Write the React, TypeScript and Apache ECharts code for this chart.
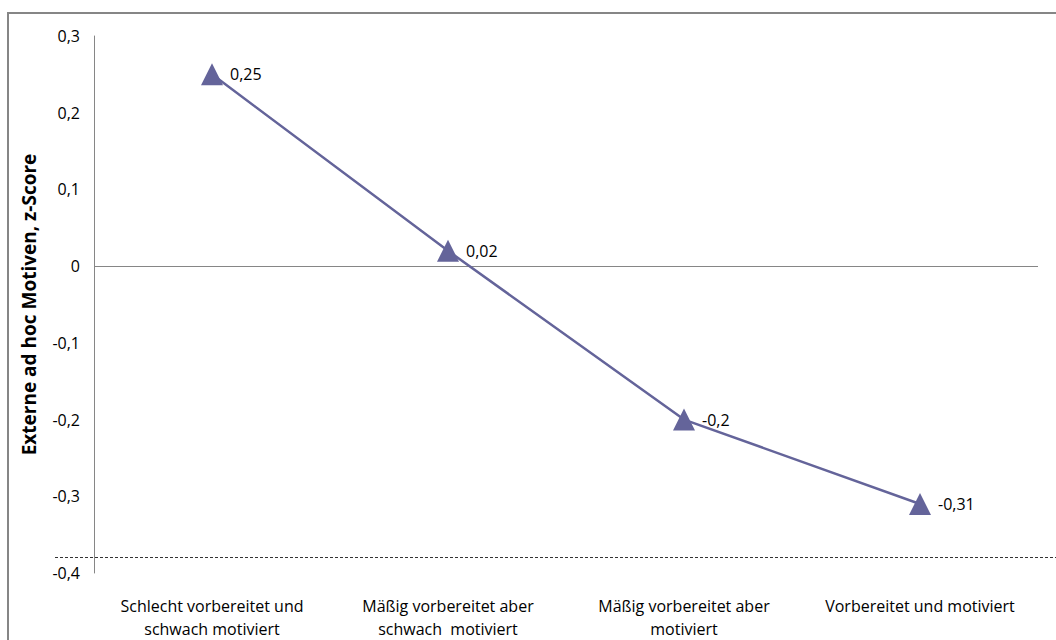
import React, { useEffect, useRef } from "react";
import * as echarts from "echarts";

const categories = [
  "Schlecht vorbereitet und\nschwach motiviert",
  "Mäßig vorbereitet aber\nschwach  motiviert",
  "Mäßig vorbereitet aber\nmotiviert",
  "Vorbereitet und motiviert",
];
const values = [0.25, 0.02, -0.2, -0.31];
const yTitle = "Externe ad hoc Motiven, z-Score";
const yMin = -0.4;
const yMax = 0.3;
const yStep = 0.1;

const FONT = "'Open Sans', 'Noto Sans', sans-serif";
const fmt = (v: number) => {
  if (Math.abs(v) < 1e-9) return "0";
  return String(Math.round(v * 100) / 100).replace(".", ",");
};

export default function App() {
  const ref = useRef<HTMLDivElement>(null);
  useEffect(() => {
    if (!ref.current) return;
    const chart = echarts.init(ref.current, undefined, { renderer: "svg" });
    chart.setOption({
      animation: false,
      backgroundColor: "#ffffff",
      grid: { left: 94, right: 18, top: 36, bottom: 67 },
      graphic: [
        {
          type: "rect",
          shape: { x: 8, y: 13, width: 1200, height: 800 },
          style: { fill: "none", stroke: "#868686", lineWidth: 2 },
          silent: true,
        },
        {
          type: "line",
          shape: { x1: 55, y1: 557.5, x2: 1056, y2: 557.5 },
          style: { stroke: "#333333", lineWidth: 1, lineDash: [3, 2] },
          silent: true,
        },
      ],
      xAxis: {
        type: "category",
        data: categories,
        boundaryGap: true,
        axisLine: { show: false, onZero: false },
        axisTick: { show: false },
        splitLine: { show: false },
        axisLabel: {
          interval: 0,
          margin: 21,
          fontSize: 16,
          lineHeight: 23,
          color: "#000000",
          fontFamily: FONT,
        },
      },
      yAxis: {
        type: "value",
        min: yMin,
        max: yMax,
        interval: yStep,
        name: yTitle,
        nameLocation: "middle",
        nameGap: 56,
        nameTextStyle: {
          fontSize: 19,
          fontWeight: "bold",
          color: "#000000",
          fontFamily: FONT,
        },
        axisLine: { show: true, lineStyle: { color: "#868686", width: 1 } },
        axisTick: { show: false },
        splitLine: { show: false },
        axisLabel: {
          margin: 14,
          fontSize: 16,
          color: "#000000",
          fontFamily: FONT,
          formatter: (v: number) => fmt(v),
        },
      },
      series: [
        {
          type: "line",
          data: values,
          symbol: "triangle",
          symbolSize: 22,
          itemStyle: { color: "#64649A" },
          lineStyle: { color: "#64649A", width: 2.5 },
          label: {
            show: true,
            position: "right",
            distance: 7,
            fontSize: 16,
            color: "#000000",
            fontFamily: FONT,
            formatter: (p: any) => fmt(p.value),
          },
          markLine: {
            silent: true,
            symbol: "none",
            label: { show: false },
            lineStyle: { color: "#868686", type: "solid", width: 1 },
            data: [{ yAxis: 0 }],
            z: 1,
          },
        },
      ],
    });
    return () => chart.dispose();
  }, []);
  return (
    <div
      ref={ref}
      style={{ position: "absolute", left: 0, top: 0, width: 1056, height: 640 }}
    />
  );
}
